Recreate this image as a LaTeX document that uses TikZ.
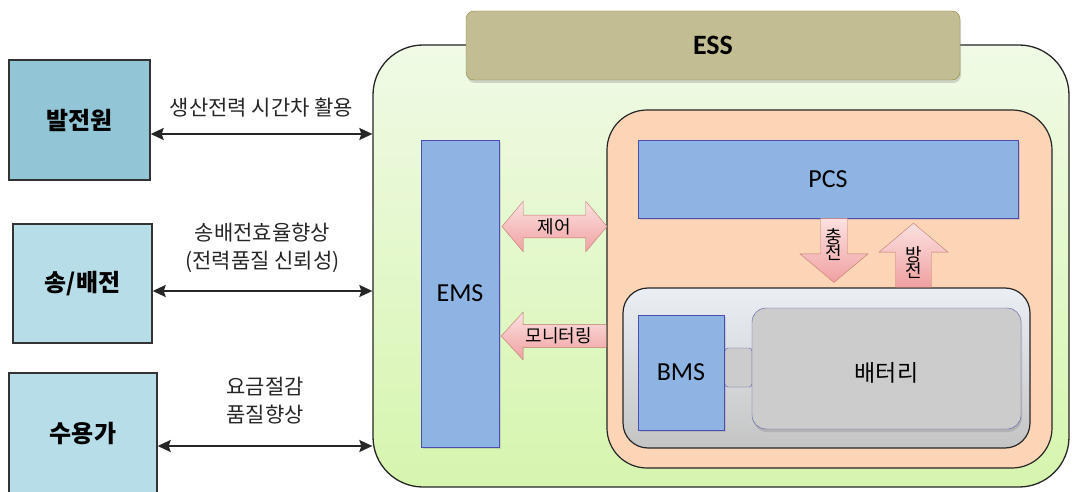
\documentclass[tikz,border=0pt]{standalone}
\usepackage{fontspec}
\setmainfont{Carlito}
\newfontfamily\kr{Noto Sans CJK KR}
\usetikzlibrary{arrows.meta,shapes.arrows,shadows}

\definecolor{srcdark}{RGB}{146,197,214}
\definecolor{srclight}{RGB}{183,221,232}
\definecolor{esstop}{RGB}{240,250,230}
\definecolor{essbot}{RGB}{214,245,174}
\definecolor{esshead}{RGB}{195,189,147}
\definecolor{blocks}{RGB}{142,180,227}
\definecolor{pcsback}{RGB}{251,213,181}
\definecolor{graytop}{RGB}{234,239,245}
\definecolor{graybot}{RGB}{196,196,196}
\definecolor{battery}{RGB}{204,204,204}
\definecolor{pinktop}{RGB}{252,225,225}
\definecolor{pinkbot}{RGB}{240,160,160}
\definecolor{pinkline}{RGB}{190,120,110}

\begin{document}
\begin{tikzpicture}[x=1pt,y=-1pt,
    srcbox/.style={draw=black!80,line width=1.4pt,inner sep=0pt},
    bluebox/.style={draw=blue!40!gray,fill=blocks,inner sep=0pt,
      drop shadow={opacity=0.25,shadow xshift=2pt,shadow yshift=-2pt}},
    pinkarrow/.style={draw=pinkline,top color=pinktop,bottom color=pinkbot,
      inner xsep=0pt,inner ysep=3pt,font=\kr\fontsize{18}{20}\selectfont,align=center},
    linkarrow/.style={{Stealth[length=13pt,width=12pt,inset=2pt]}-{Stealth[length=13pt,width=12pt,inset=2pt]},
      line width=1.8pt,black!85},
    lbl/.style={font=\kr\fontsize{21}{28}\selectfont,align=center,text=black!85,inner sep=1pt}]

\useasboundingbox (0,0) rectangle (1072,492);

% ESS frame
\node[draw=black!85,line width=1.3pt,rounded corners=50pt,top color=esstop,bottom color=essbot,
  minimum width=696pt,minimum height=442pt] (ess) at (721,266) {};
\node[draw=olive!60!gray,fill=esshead,rounded corners=8pt,minimum width=494pt,minimum height=69pt,
  drop shadow={opacity=0.3,shadow xshift=1pt,shadow yshift=-3pt},font=\bfseries\fontsize{28}{30}\selectfont]
  (esslabel) at (713,45.5) {ESS};

% EMS
\node[bluebox,minimum width=78pt,minimum height=307pt,font=\fontsize{26}{28}\selectfont] (ems) at (460,293.5) {EMS};

% PCS part
\node[draw=black!85,line width=1.2pt,fill=pcsback,rounded corners=40pt,minimum width=445pt,minimum height=358pt]
  (pcsarea) at (829.5,289) {};
\node[bluebox,minimum width=380pt,minimum height=78pt,font=\fontsize{26}{28}\selectfont] (pcs) at (828,179) {PCS};

% battery part
\node[draw=black!85,line width=1.2pt,top color=graytop,bottom color=graybot,rounded corners=25pt,
  minimum width=407pt,minimum height=160pt] (batarea) at (826.5,368) {};
\node[bluebox,minimum width=86pt,minimum height=115pt,font=\fontsize{26}{28}\selectfont] (bms) at (681,372.5) {BMS};
\node[draw=blue!30!gray,fill=battery,rounded corners=3pt,minimum width=27pt,minimum height=39pt,inner sep=0pt]
  (plug) at (738.5,367.5) {};
\node[draw=blue!30!gray,fill=battery,rounded corners=14pt,minimum width=269pt,minimum height=121pt,
  drop shadow={opacity=0.3,shadow xshift=1pt,shadow yshift=-3pt},font=\kr\fontsize{23}{25}\selectfont,
  text height=27pt] (bat) at (886.5,368.5) {배터리};

% block arrows
\node[pinkarrow,double arrow,double arrow head extend=14pt,double arrow tip angle=100,
  minimum height=105pt] (ctrl) at (554.5,226.5) {제어};
\node[pinkarrow,single arrow,shape border rotate=180,single arrow head extend=12.5pt,single arrow tip angle=95,
  minimum height=105pt,anchor=tail] (mon) at (pcsarea.west |- 0,336) {모니터링};
\node[pinkarrow,single arrow,shape border rotate=270,single arrow head extend=20.5pt,single arrow tip angle=100,
  minimum height=64pt,inner xsep=5pt,inner ysep=0pt,anchor=tail] (chg) at (pcs.south -| 834,0) {충\\[-4pt]전};
\node[pinkarrow,single arrow,shape border rotate=90,single arrow head extend=16.5pt,single arrow tip angle=100,
  minimum height=64pt,inner xsep=9.5pt,inner ysep=0pt,anchor=tail] (dis) at (batarea.north -| 913.5,0) {방\\[-4pt]전};

% sources
\node[srcbox,fill=srcdark,minimum width=141pt,minimum height=120pt,font=\kr\bfseries\fontsize{24}{26}\selectfont]
  (gen) at (79.5,120) {발전원};
\node[srcbox,fill=srclight,minimum width=139pt,minimum height=119pt,font=\kr\bfseries\fontsize{24}{26}\selectfont]
  (grid) at (82.5,283.5) {송/배전};
\node[srcbox,fill=srclight,minimum width=148pt,minimum height=122pt,font=\kr\bfseries\fontsize{24}{26}\selectfont]
  (user) at (83,434) {수용가};

\draw[linkarrow] ([yshift=-14pt]gen.east) -- ([yshift=-14pt]gen.east -| ess.west)
  node[lbl,midway,yshift=26pt] (lgen) {생산전력 시간차 활용};
\draw[linkarrow] ([yshift=-7.5pt]grid.east) -- ([yshift=-7.5pt]grid.east -| ess.west)
  node[lbl,midway,yshift=43pt] (lgrid) {송배전효율향상\\(전력품질 신뢰성)};
\draw[linkarrow] ([yshift=-12pt]user.east) -- ([yshift=-12pt]user.east -| ess.west)
  node[lbl,midway,yshift=45pt] (luser) {요금절감\\품질향상};
\end{tikzpicture}
\end{document}
